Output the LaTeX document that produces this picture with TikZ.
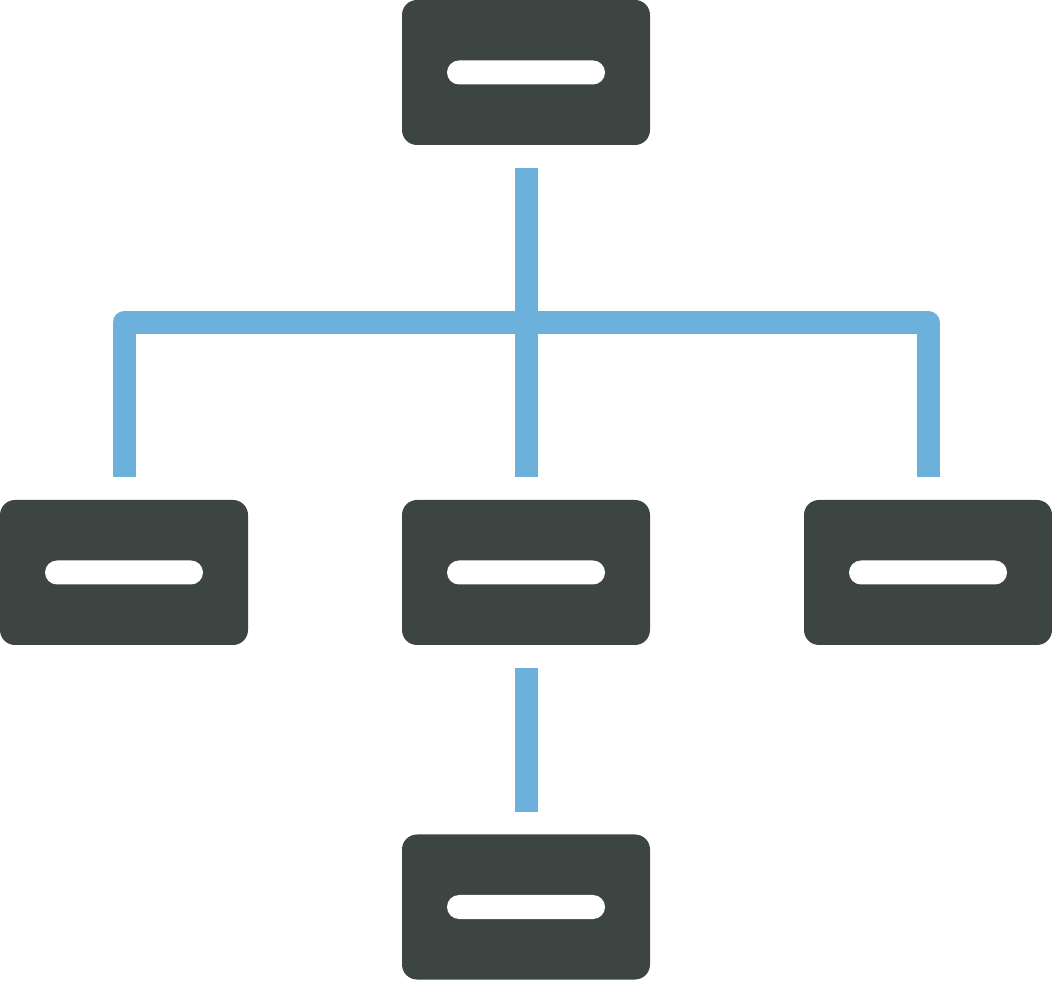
\documentclass[tikz,border=0pt]{standalone}
\definecolor{boxgray}{HTML}{3D4543}
\definecolor{connblue}{HTML}{6BB1DC}
\tikzset{
  orgbox/.style={rectangle, rounded corners=15pt, fill=boxgray, minimum width=248pt, minimum height=145pt, inner sep=0pt},
  orgbar/.style={rectangle, rounded corners=12pt, fill=white, minimum width=158pt, minimum height=24pt, inner sep=0pt},
  conn/.style={draw=connblue, line width=23pt, line join=round}
}
\begin{document}
\begin{tikzpicture}[x=1pt,y=1pt]
\useasboundingbox (0,0) rectangle (1052,980);
\node[orgbox] (top) at (526,907.5) {};
\node[orgbox] (left) at (124,407.5) {};
\node[orgbox] (mid) at (526,407.5) {};
\node[orgbox] (right) at (928,407.5) {};
\node[orgbox] (bot) at (526,73) {};
\foreach \n in {top,left,mid,right,bot} {\node[orgbar] (\n bar) at (\n.center) {};}
\coordinate (j) at (526,657.5);
\draw[conn] ([yshift=-23pt]top.south) -- ([yshift=23pt]mid.north);
\draw[conn] ([yshift=23pt]left.north) |- (j) -| ([yshift=23pt]right.north);
\draw[conn] ([yshift=-23pt]mid.south) -- ([yshift=22pt]bot.north);
\end{tikzpicture}
\end{document}
